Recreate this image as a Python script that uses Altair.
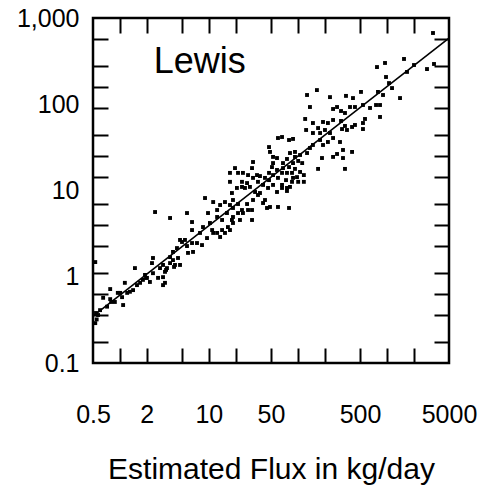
import altair as alt
import pandas as pd

est_flux = [
    3305, 3392, 2830, 2022, 1561, 1687, 955, 776, 980, 1059,
    1145, 796, 907, 1408, 513, 417, 348, 230, 164, 127,
    137, 249, 276, 306, 339, 386, 439, 540, 648, 757,
    839, 839, 569, 540, 540, 439, 407, 339, 306, 249,
    218, 192, 121, 148, 169, 202, 178, 148, 124, 230,
    249, 298, 218, 178, 192, 148, 137, 357, 314, 88.4,
    79.7, 66.5, 59.9, 322, 407, 322, 339, 187, 169, 249,
    276, 127, 106, 93.0, 81.7, 93.0, 101, 112, 88.4, 75.6,
    68.2, 58.4, 52.7, 47.5, 48.7, 52.7, 68.2, 79.7, 93.0, 106,
    86.1, 98.0, 117, 117, 101, 88.4, 75.6, 66.5, 58.4, 51.3,
    47.5, 52.7, 59.9, 73.7, 86.1, 81.7, 75.6, 66.5, 52.7, 47.5,
    42.8, 37.6, 34.8, 31.4, 35.7, 40.7, 46.3, 58.4, 66.5, 75.6,
    79.7, 59.9, 48.7, 42.8, 37.6, 33.1, 29.0, 26.9, 31.4, 30.6,
    27.6, 24.2, 21.3, 19.7, 17.3, 17.3, 23.6, 25.5, 23.6, 20.7,
    18.2, 18.7, 21.3, 26.9, 31.4, 35.7, 40.7, 45.1, 30.6, 27.6,
    23.6, 30.6, 24.2, 21.3, 18.7, 17.3, 15.2, 13.4, 12.4, 11.2,
    9.07, 9.80, 12.4, 14.1, 16.0, 18.7, 22.4, 18.7, 16.4, 14.1,
    12.4, 10.9, 10.3, 8.61, 7.97, 9.55, 11.2, 13.4, 15.2, 17.3,
    18.2, 6.48, 6.48, 5.69, 5.40, 4.75, 3.67, 2.49, 7.37, 8.39,
    5.0, 5.69, 6.48, 6.65, 5.84, 4.39, 3.96, 3.67, 3.96, 4.51,
    4.75, 4.17, 3.67, 3.39, 3.06, 2.83, 3.22, 3.06, 3.22, 3.06,
    2.69, 2.36, 2.30, 2.36, 2.18, 2.02, 1.82, 1.92, 1.69, 1.56,
    1.48, 1.41, 1.30, 1.14, 1.21, 1.06, 1.09, 0.95, 0.88, 0.78,
    0.78, 0.72, 0.65, 0.60, 0.57, 0.55, 0.53, 0.53, 1.01, 0.80,
    0.54, 3.31, 4.07, 1.97,
]
obs_flux = [
    670, 293, 256, 285, 335, 237, 301, 270, 207, 176,
    154, 139, 128, 118, 139, 118, 125, 121, 146, 128,
    92.9, 88.1, 92.9, 83.5, 79.2, 92.9, 92.9, 98.0, 90.5, 98.0,
    98.0, 71.2, 67.5, 60.6, 51.6, 57.5, 54.5, 56.0, 64.0, 65.7,
    60.6, 62.3, 67.5, 60.6, 53.0, 50.3, 46.4, 46.4, 50.3, 46.4,
    40.6, 36.5, 36.5, 38.5, 33.7, 33.7, 31.1, 50.3, 51.6, 39.6,
    38.5, 41.7, 40.6, 29.5, 28.0, 23.8, 17.8, 23.8, 17.8, 24.5,
    26.5, 27.2, 25.8, 28.0, 27.2, 24.5, 22.0, 20.8, 20.8, 23.2,
    20.8, 23.8, 20.8, 31.9, 28.0, 24.5, 18.2, 18.7, 17.8, 16.4,
    16.0, 14.3, 15.1, 12.6, 12.6, 14.0, 16.0, 16.0, 17.3, 18.7,
    16.0, 15.1, 14.0, 13.2, 12.6, 11.0, 10.7, 11.6, 11.6, 13.2,
    14.0, 14.7, 15.1, 14.0, 12.6, 11.6, 10.7, 9.61, 10.7, 9.87,
    6.27, 6.44, 6.44, 7.76, 9.35, 9.61, 11.0, 12.2, 21.4, 18.2,
    15.1, 16.0, 16.0, 18.2, 16.0, 12.6, 12.6, 10.7, 11.0, 10.7,
    9.35, 7.76, 6.97, 6.97, 7.76, 8.87, 7.16, 6.27, 5.94, 5.94,
    5.94, 4.55, 5.48, 5.48, 6.27, 6.79, 7.35, 6.79, 5.94, 7.35,
    8.18, 5.48, 4.93, 4.55, 5.48, 4.93, 4.55, 4.20, 3.77, 3.48,
    3.22, 3.48, 4.20, 3.77, 3.22, 2.81, 3.22, 2.89, 3.22, 3.48,
    4.55, 4.31, 3.48, 5.48, 2.67, 2.67, 4.80, 5.63, 2.46, 2.33,
    2.53, 2.27, 2.46, 1.94, 1.89, 2.15, 1.94, 1.69, 1.56, 1.65,
    1.37, 1.37, 1.44, 1.26, 1.37, 1.26, 1.14, 0.99, 0.85, 0.80,
    0.97, 1.10, 1.44, 1.65, 0.87, 0.97, 0.92, 1.05, 0.85, 0.80,
    1.26, 0.70, 0.67, 0.85, 0.65, 0.58, 0.47, 0.65, 0.51, 0.72,
    0.55, 0.45, 0.57, 0.41, 0.36, 0.32, 0.29, 1.48, 0.65, 0.51,
    0.38, 1.20, 1.30, 0.97,
]

# Fitted line end points
fit_x = [0.5, 5000]
fit_y = [0.35, 585]

# Axis labels and ticks
x_label_values = [0.5, 2, 10, 50, 500, 5000]
x_tick_values = [1, 2, 5, 10, 20, 50, 100, 200, 500, 1000, 2000]
y_label_values = [0.1, 1, 10, 100, 1000]
y_tick_values = [0.174, 0.362, 0.631, 1.099, 2.287, 3.98, 6.93, 14.43,
                 25.12, 43.75, 91.06, 158.5, 276.1, 574.5]

site_name = ["Lewis"]
site_x = [2.4]
site_y = [230]

W, H = 356, 345
FONT = "Liberation Sans"

xscale = alt.Scale(type="log", domain=[0.5, 5000], nice=False)
yscale = alt.Scale(type="log", domain=[0.1, 1000], nice=False)


def tick_axis(orient, offset, values):
    return alt.Axis(orient=orient, offset=offset, values=values, labels=False,
                    domain=False, grid=False, ticks=True, tickSize=15,
                    tickWidth=2, tickColor="black", title=None)


points = alt.Chart(pd.DataFrame({"est": est_flux, "obs": obs_flux})).mark_square(
    size=15, color="black", opacity=1
).encode(
    x=alt.X("est:Q", scale=xscale, axis=alt.Axis(
        orient="bottom", values=x_label_values, format="~g", ticks=False,
        tickSize=0, domain=False, grid=False, labelPadding=39,
        labelFontSize=25, labelFont=FONT, labelColor="black",
        labelOverlap=False, labelFlush=False, labelBound=False,
        title="Estimated Flux in kg/day", titleFont=FONT, titleFontSize=30,
        titleFontWeight="normal", titleColor="black",
        titleBaseline="alphabetic", titleY=115)),
    y=alt.Y("obs:Q", scale=yscale, axis=alt.Axis(
        orient="left", values=y_label_values, format=",~g", ticks=False,
        tickSize=0, domain=False, grid=False, labelPadding=14,
        labelFontSize=25, labelFont=FONT, labelColor="black",
        labelOverlap=False, labelFlush=False, labelBound=False, title=None)),
)

line = alt.Chart(pd.DataFrame({"est": fit_x, "obs": fit_y})).mark_line(
    color="black", strokeWidth=1.6
).encode(
    x=alt.X("est:Q", scale=xscale, axis=tick_axis("top", -H, x_tick_values)),
    y=alt.Y("obs:Q", scale=yscale, axis=tick_axis("right", -W, y_tick_values)),
)

label = alt.Chart(pd.DataFrame({"est": site_x, "obs": site_y, "name": site_name})).mark_text(
    align="left", baseline="alphabetic", fontSize=36, font=FONT, color="black"
).encode(
    x=alt.X("est:Q", scale=xscale, axis=tick_axis("bottom", -H, x_tick_values)),
    y=alt.Y("obs:Q", scale=yscale, axis=tick_axis("left", -W, y_tick_values)),
    text="name:N",
)

chart = alt.layer(points, line, label).resolve_axis(
    x="independent", y="independent"
).properties(
    width=W, height=H,
    autosize=alt.AutoSizeParams(type="none"),
    padding={"left": 93, "top": 18, "right": 32, "bottom": 129},
    background="white",
).configure_view(stroke="black", strokeWidth=2.5)

chart.save("out.html", embed_options={"renderer": "svg", "actions": False})
